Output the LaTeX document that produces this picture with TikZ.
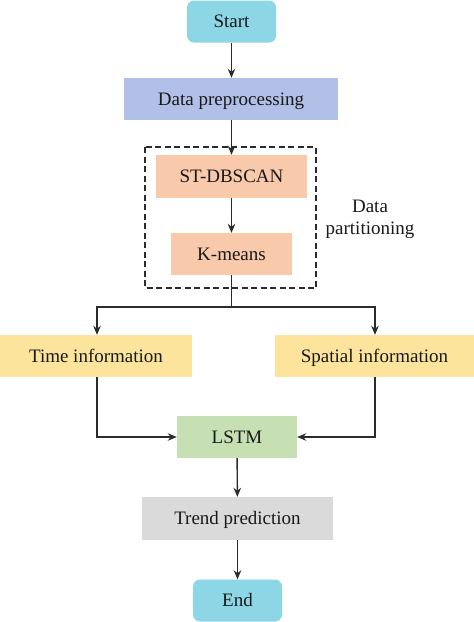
\documentclass[tikz,border=0pt]{standalone}
\usepackage{fontspec}
\setmainfont{Liberation Serif}
\usetikzlibrary{arrows.meta,calc}
\definecolor{cyanbox}{HTML}{8DD6E5}
\definecolor{bluebox}{HTML}{B2C0E8}
\definecolor{peachbox}{HTML}{F8C9AB}
\definecolor{yellowbox}{HTML}{FCE49C}
\definecolor{greenbox}{HTML}{C6E0B4}
\definecolor{graybox}{HTML}{DADADA}
\definecolor{linec}{HTML}{2B2B2B}
\begin{document}
\begin{tikzpicture}[x=1pt,y=-1pt,
  box/.style={inner sep=0pt,font=\fontsize{19}{22}\selectfont,text=black!90,text height=12.6pt,text depth=0pt},
  term/.style={box,fill=cyanbox,rounded corners=7pt},
  arr/.style={draw=linec,line width=1.4pt,-{Stealth[length=9pt,width=7.5pt]}},
  ln/.style={draw=linec,line width=1.4pt}]
\useasboundingbox (0,0) rectangle (474,622);
\node[term,minimum width=89pt,minimum height=42pt] (start) at (231.5,21.5) {Start};
\node[box,fill=bluebox,minimum width=214pt,minimum height=42pt] (prep) at (231,99) {Data preprocessing};
\node[box,fill=peachbox,minimum width=151pt,minimum height=43pt] (st) at (231.5,176.5) {ST-DBSCAN};
\node[box,fill=peachbox,minimum width=121pt,minimum height=42pt] (km) at (231.5,254) {K-means};
\draw[draw=linec,line width=1.4pt,dash pattern=on 6pt off 3.5pt] (145,147) rectangle (316,288);
\node[inner sep=0pt,align=center,font=\fontsize{19}{22}\selectfont,text=black!90] (part) at (370,219) {Data\\partitioning};
\node[box,fill=yellowbox,minimum width=192pt,minimum height=42pt] (time) at (96,356) {Time information};
\node[box,fill=yellowbox,minimum width=199pt,minimum height=42pt] (spat) at (374.5,356) {Spatial information};
\node[box,fill=greenbox,minimum width=120pt,minimum height=42pt] (lstm) at (237,437) {LSTM};
\node[box,fill=graybox,minimum width=191pt,minimum height=43pt] (trend) at (237.5,518.5) {Trend prediction};
\node[term,minimum width=89pt,minimum height=42pt] (end) at (237.5,600.5) {End};
\coordinate (j) at (231.5,307);
\draw[arr] (start) -- (prep.north -| start);
\draw[arr] (prep.south -| st) -- (st);
\draw[arr] (st) -- (km);
\draw[ln] (km) -- (j);
\draw[arr] (j) -| (time.north -| 97,0);
\draw[arr] (j) -| (spat.north -| 375,0);
\draw[arr] (time.south -| 97,0) |- (lstm.west);
\draw[arr] (spat.south -| 375,0) |- (lstm.east);
\draw[arr] (lstm) -- (trend);
\draw[arr] (trend) -- (end);
\end{tikzpicture}
\end{document}
